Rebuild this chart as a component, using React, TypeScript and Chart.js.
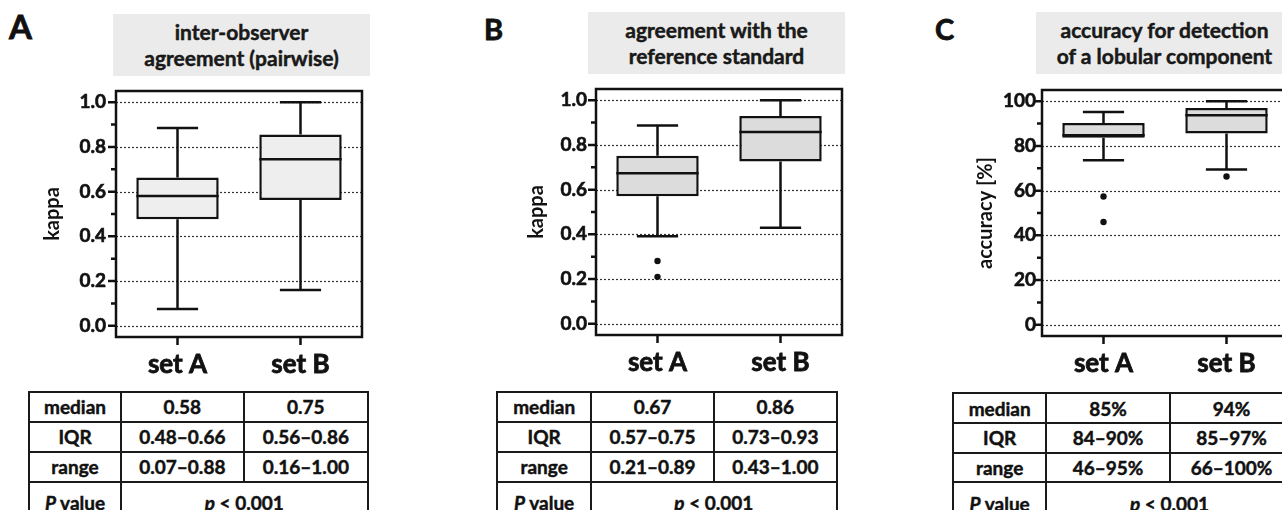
import React, { useEffect, useRef } from 'react';
import { Chart, registerables } from 'chart.js';

Chart.register(...registerables);

const FONT = 'Lato, "Open Sans", sans-serif';
const INK = '#111111';
const WEIGHT = 700;
const HTML_STROKE = '0.45px #111';

const CATEGORIES = ['set A', 'set B'];

const KAPPA_TICKS = [0, 0.2, 0.4, 0.6, 0.8, 1.0];
const KAPPA_MINOR = [0.1, 0.3, 0.5, 0.7, 0.9];
const ACC_TICKS = [0, 20, 40, 60, 80, 100];
const ACC_MINOR = [10, 30, 50, 70, 90];

// Panel A: inter-observer agreement (pairwise)
const pairwiseLow = [0.075, 0.16];
const pairwiseQ1 = [0.477, 0.563];
const pairwiseMedian = [0.581, 0.745];
const pairwiseQ3 = [0.663, 0.855];
const pairwiseHigh = [0.885, 1.0];
const pairwiseOutliers: { x: string; y: number }[] = [];

// Panel B: agreement with the reference standard
const referenceLow = [0.392, 0.43];
const referenceQ1 = [0.57, 0.726];
const referenceMedian = [0.673, 0.858];
const referenceQ3 = [0.751, 0.929];
const referenceHigh = [0.887, 1.0];
const referenceOutliers = [
  { x: 'set A', y: 0.281 },
  { x: 'set A', y: 0.21 },
];

// Panel C: accuracy for detection of a lobular component
const lobularLow = [73.6, 69.4];
const lobularQ1 = [83.6, 85.5];
const lobularMedian = [84.8, 93.7];
const lobularQ3 = [90.2, 96.9];
const lobularHigh = [95.2, 100];
const lobularOutliers = [
  { x: 'set A', y: 57.4 },
  { x: 'set A', y: 46 },
  { x: 'set B', y: 66.3 },
];

const TABLE_ROW_LABELS = ['median', 'IQR', 'range'];
const pairwiseTable = [
  ['0.58', '0.75'],
  ['0.48–0.66', '0.56–0.86'],
  ['0.07–0.88', '0.16–1.00'],
];
const referenceTable = [
  ['0.67', '0.86'],
  ['0.57–0.75', '0.73–0.93'],
  ['0.21–0.89', '0.43–1.00'],
];
const lobularTable = [
  ['85%', '94%'],
  ['84–90%', '85–97%'],
  ['46–95%', '66–100%'],
];
const P_TEXT = '0.001';

const boxPlugin = {
  id: 'boxExtras',
  beforeDatasetsDraw(chart: any, _args: any, opts: any) {
    const { ctx, chartArea: ca, scales } = chart;
    const y = scales.y;
    ctx.save();
    ctx.strokeStyle = '#333';
    ctx.lineWidth = 1.2;
    ctx.setLineDash([2, 2]);
    (opts.major as number[]).forEach((v) => {
      const py = Math.round(y.getPixelForValue(v)) + 0.5;
      ctx.beginPath();
      ctx.moveTo(ca.left, py);
      ctx.lineTo(ca.right, py);
      ctx.stroke();
    });
    ctx.restore();
  },
  afterDatasetsDraw(chart: any, _args: any, opts: any) {
    const { ctx, scales } = chart;
    const y = scales.y;
    const meta = chart.getDatasetMeta(0);
    ctx.save();
    ctx.strokeStyle = INK;
    ctx.lineWidth = 2.5;
    ctx.lineCap = 'butt';
    meta.data.forEach((bar: any, i: number) => {
      const cx = bar.x;
      const w = bar.width;
      const q1 = y.getPixelForValue(opts.q1[i]);
      const q3 = y.getPixelForValue(opts.q3[i]);
      const lo = y.getPixelForValue(opts.low[i]);
      const hi = y.getPixelForValue(opts.high[i]);
      const med = y.getPixelForValue(opts.median[i]);
      ctx.beginPath();
      ctx.moveTo(cx, q3);
      ctx.lineTo(cx, hi);
      ctx.moveTo(cx, q1);
      ctx.lineTo(cx, lo);
      ctx.moveTo(cx - w / 4, hi);
      ctx.lineTo(cx + w / 4, hi);
      ctx.moveTo(cx - w / 4, lo);
      ctx.lineTo(cx + w / 4, lo);
      ctx.moveTo(cx - w / 2, med);
      ctx.lineTo(cx + w / 2, med);
      ctx.stroke();
    });
    ctx.restore();
  },
  afterDraw(chart: any, _args: any, opts: any) {
    const { ctx, chartArea: ca, scales } = chart;
    const { x, y } = scales;
    ctx.save();
    ctx.strokeStyle = INK;
    ctx.lineWidth = 2.5;
    ctx.strokeRect(ca.left, ca.top, ca.right - ca.left, ca.bottom - ca.top);
    ctx.beginPath();
    (opts.major as number[]).forEach((v) => {
      const py = y.getPixelForValue(v);
      ctx.moveTo(ca.left - 8, py);
      ctx.lineTo(ca.left, py);
    });
    (opts.minor as number[]).forEach((v) => {
      const py = y.getPixelForValue(v);
      ctx.moveTo(ca.left - 5, py);
      ctx.lineTo(ca.left, py);
    });
    CATEGORIES.forEach((_c, i) => {
      const px = x.getPixelForValue(i);
      ctx.moveTo(px, ca.bottom);
      ctx.lineTo(px, ca.bottom + 8);
    });
    ctx.stroke();
    ctx.restore();
  },
};

type PanelProps = {
  left: number;
  top: number;
  low: number[];
  q1: number[];
  median: number[];
  q3: number[];
  high: number[];
  outliers: { x: string; y: number }[];
  min: number;
  max: number;
  major: number[];
  minor: number[];
  decimals: number;
  fill: string;
  yTitle: string;
  titlePad: number;
  tickPad: number;
};

function BoxChart(p: PanelProps) {
  const ref = useRef<HTMLCanvasElement>(null);
  useEffect(() => {
    if (!ref.current) return;
    const chart = new Chart(ref.current, {
      type: 'bar',
      data: {
        labels: CATEGORIES,
        datasets: [
          {
            type: 'bar',
            data: p.q1.map((v, i) => [v, p.q3[i]]) as any,
            backgroundColor: p.fill,
            borderColor: INK,
            borderWidth: 2.5,
            borderSkipped: false,
            barPercentage: 0.67,
            categoryPercentage: 1,
            order: 2,
          },
          {
            type: 'line',
            data: p.outliers as any,
            showLine: false,
            pointRadius: 3.2,
            pointBackgroundColor: INK,
            pointBorderWidth: 0,
            borderColor: INK,
            order: 1,
          } as any,
        ],
      },
      options: {
        responsive: true,
        maintainAspectRatio: false,
        animation: false,
        events: [],
        layout: { padding: { left: 0, right: 10, top: 11, bottom: 0 } },
        plugins: {
          legend: { display: false },
          tooltip: { enabled: false },
          boxExtras: {
            low: p.low,
            q1: p.q1,
            median: p.median,
            q3: p.q3,
            high: p.high,
            major: p.major,
            minor: p.minor,
          },
        } as any,
        scales: {
          x: {
            type: 'category',
            offset: true,
            grid: { display: false, drawTicks: false },
            border: { display: false },
            ticks: {
              color: INK,
              font: { family: FONT, size: 26, weight: 'bold' },
              padding: 12,
              maxRotation: 0,
              textStrokeColor: INK,
              textStrokeWidth: 0.8,
            },
            afterFit: (s: any) => {
              s.height = 48;
              s.paddingLeft = 0;
              s.paddingRight = 0;
            },
          },
          y: {
            type: 'linear',
            min: p.min,
            max: p.max,
            afterBuildTicks: (s: any) => {
              s.ticks = p.major.map((v) => ({ value: v }));
            },
            grid: { display: false, drawTicks: false },
            border: { display: false },
            ticks: {
              color: INK,
              font: { family: FONT, size: 19, weight: 'bold' },
              padding: p.tickPad,
              callback: (v: any) => Number(v).toFixed(p.decimals),
              textStrokeColor: INK,
              textStrokeWidth: 0.6,
            },
            title: {
              display: true,
              text: p.yTitle,
              color: INK,
              font: { family: FONT, size: 20, weight: 'bold' },
              padding: { top: p.titlePad, bottom: 0 },
            },
            afterFit: (s: any) => {
              s.width = 96;
              s.paddingTop = 0;
              s.paddingBottom = 0;
            },
          },
        },
      },
      plugins: [boxPlugin as any],
    });
    return () => chart.destroy();
  }, []);
  return (
    <div style={{ position: 'absolute', left: p.left, top: p.top, width: 352, height: 305 }}>
      <canvas ref={ref} />
    </div>
  );
}

function StatsTable({ xs, ys, rows }: { xs: number[]; ys: number[]; rows: string[][] }) {
  const line = '#1a1a1a';
  const els: React.ReactNode[] = [];
  ys.slice(0, 4).forEach((yy, i) => {
    els.push(
      <div key={'h' + i} style={{ position: 'absolute', left: xs[0] - 1, top: yy - 1, width: xs[3] - xs[0] + 2, height: 2, background: line }} />
    );
  });
  xs.forEach((xx, i) => {
    const bottom = i === 2 ? ys[3] : ys[4];
    els.push(
      <div key={'v' + i} style={{ position: 'absolute', left: xx - 1, top: ys[0] - 1, width: 2, height: bottom - ys[0] + 1, background: line }} />
    );
  });
  const cell = (key: string, x0: number, x1: number, y0: number, y1: number, content: React.ReactNode) => (
    <div
      key={key}
      style={{
        position: 'absolute',
        left: x0,
        top: y0,
        width: x1 - x0,
        height: y1 - y0,
        display: 'flex',
        alignItems: 'center',
        justifyContent: 'center',
        fontWeight: WEIGHT,
        fontSize: 19,
        color: '#111',
        whiteSpace: 'nowrap',
        WebkitTextStroke: HTML_STROKE,
      }}
    >
      {content}
    </div>
  );
  TABLE_ROW_LABELS.forEach((lab, r) => {
    els.push(cell('l' + r, xs[0], xs[1], ys[r], ys[r + 1], lab));
    els.push(cell('a' + r, xs[1], xs[2], ys[r], ys[r + 1], rows[r][0]));
    els.push(cell('b' + r, xs[2], xs[3], ys[r], ys[r + 1], rows[r][1]));
  });
  els.push(cell('pl', xs[0], xs[1], ys[3], ys[4], <span><i>P</i> value</span>));
  els.push(cell('pv', xs[1], xs[3], ys[3], ys[4], <span><i>p</i> &lt; {P_TEXT}</span>));
  return <>{els}</>;
}

function TitleBox({ left, top, lines }: { left: number; top: number; lines: string[] }) {
  return (
    <div
      style={{
        position: 'absolute',
        left,
        top,
        width: 257,
        height: 62,
        background: '#ebebeb',
        display: 'flex',
        flexDirection: 'column',
        alignItems: 'center',
        justifyContent: 'center',
        fontWeight: WEIGHT,
        fontSize: 21,
        lineHeight: '26px',
        color: '#1a1a1a',
        whiteSpace: 'nowrap',
        WebkitTextStroke: HTML_STROKE,
      }}
    >
      {lines.map((l, i) => (
        <div key={i}>{l}</div>
      ))}
    </div>
  );
}

function Letter({ left, top, text, size }: { left: number; top: number; text: string; size: number }) {
  return (
    <div
      style={{
        position: 'absolute',
        left,
        top,
        fontSize: size,
        fontWeight: WEIGHT,
        lineHeight: size + 'px',
        color: '#111',
        WebkitTextStroke: '0.8px #111',
      }}
    >
      {text}
    </div>
  );
}

export default function App() {
  return (
    <div
      style={{
        position: 'fixed',
        left: 0,
        top: 0,
        width: 1282,
        height: 510,
        overflow: 'hidden',
        background: '#ffffff',
        fontFamily: FONT,
      }}
    >
      <Letter left={9} top={10} text="A" size={33} />
      <Letter left={484} top={14} text="B" size={29} />
      <Letter left={935} top={14} text="C" size={29} />

      <TitleBox left={113} top={14} lines={['inter-observer', 'agreement (pairwise)']} />
      <TitleBox left={588} top={12} lines={['agreement with the', 'reference standard']} />
      <TitleBox left={1036} top={12} lines={['accuracy for detection', 'of a lobular component']} />

      <BoxChart
        left={20}
        top={80}
        low={pairwiseLow}
        q1={pairwiseQ1}
        median={pairwiseMedian}
        q3={pairwiseQ3}
        high={pairwiseHigh}
        outliers={pairwiseOutliers}
        min={-0.05}
        max={1.05}
        major={KAPPA_TICKS}
        minor={KAPPA_MINOR}
        decimals={1}
        fill="#eeeeee"
        yTitle="kappa"
        titlePad={21}
        tickPad={10}
      />
      <BoxChart
        left={500}
        top={78}
        low={referenceLow}
        q1={referenceQ1}
        median={referenceMedian}
        q3={referenceQ3}
        high={referenceHigh}
        outliers={referenceOutliers}
        min={-0.05}
        max={1.05}
        major={KAPPA_TICKS}
        minor={KAPPA_MINOR}
        decimals={1}
        fill="#dcdcdc"
        yTitle="kappa"
        titlePad={25}
        tickPad={9}
      />
      <BoxChart
        left={946}
        top={79}
        low={lobularLow}
        q1={lobularQ1}
        median={lobularMedian}
        q3={lobularQ3}
        high={lobularHigh}
        outliers={lobularOutliers}
        min={-5}
        max={105}
        major={ACC_TICKS}
        minor={ACC_MINOR}
        decimals={0}
        fill="#dcdcdc"
        yTitle="accuracy [%]"
        titlePad={28}
        tickPad={6}
      />

      <StatsTable xs={[29.3, 120.7, 244, 367.7]} ys={[391.7, 421.7, 451.7, 481.7, 524]} rows={pairwiseTable} />
      <StatsTable xs={[497.3, 591, 714, 836.7]} ys={[391.7, 421.7, 451.7, 481.7, 524]} rows={referenceTable} />
      <StatsTable xs={[953.3, 1046, 1170, 1293]} ys={[393, 423, 452.7, 482.3, 524]} rows={lobularTable} />
    </div>
  );
}
